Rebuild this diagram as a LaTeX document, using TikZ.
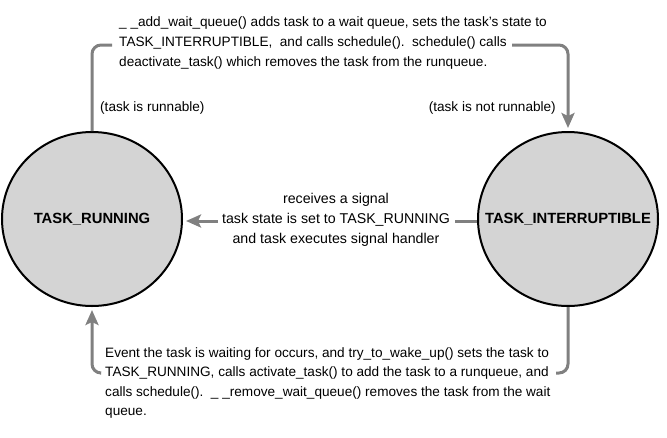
\documentclass[tikz,border=0pt]{standalone}
\usepackage{fontspec}
\setmainfont{Liberation Sans}
\usepackage{tikz}
\usetikzlibrary{shapes.geometric,arrows,arrows.meta}
\definecolor{stategray}{RGB}{212,212,212}
\definecolor{linegray}{RGB}{128,128,128}
\tikzstyle{state}=[ellipse,minimum width=180pt,minimum height=174pt,inner sep=0pt,
draw=black,line width=2pt,fill=stategray]
\tikzstyle{statename}=[inner sep=0pt,font=\fontsize{14.8}{18}\selectfont\bfseries]
\tikzstyle{note}=[align=left,inner sep=0pt,font=\fontsize{13.6}{19.6}\selectfont]
\tikzstyle{line}=[line width=3pt,draw=linegray,rounded corners=9pt]
\tikzstyle{arrow}=[line,-{Stealth[length=15pt,width=13pt,inset=3pt]},shorten >=3pt]

\begin{document}
\begin{tikzpicture}[x=1pt,y=-1pt]
        \useasboundingbox (0,0) rectangle (667,437);
        \node (run) [state,label={[statename]center:TASK\_RUNNING}] at (92,219) {};
        \node (intr) [state,label={[statename]center:TASK\_INTERRUPTIBLE}] at (568,219) {};

        \node (sleep) [note,anchor=west] at (119,43) {\_ \_add\_wait\_queue() adds task to a wait queue, sets the task’s state to\\
        TASK\_INTERRUPTIBLE,\ \ and calls schedule().\ \ schedule() calls\\
        deactivate\_task() which removes the task from the runqueue.};
        \node (wake) [note,anchor=west] at (105,383) {Event the task is waiting for occurs, and try\_to\_wake\_up() sets the task to\\
        TASK\_RUNNING, calls activate\_task() to add the task to a runqueue, and\\
        calls schedule().\ \ \_ \_remove\_wait\_queue() removes the task from the wait\\
        queue.};
        \node (signal) [note,align=center,font=\fontsize{14.2}{20}\selectfont] at (336,220) {receives a signal\\
        task state is set to TASK\_RUNNING\\
        and task executes signal handler};
        \node (yes) [note,anchor=west] at (100,108) {(task is runnable)};
        \node (no) [note,anchor=east] at (556,108) {(task is not runnable)};

        \coordinate (tl) at (112,45);
        \coordinate (tr) at (512,45);
        \coordinate (bl) at (100,373);
        \coordinate (br) at (556,373);
        \coordinate (ml) at (218,221);
        \coordinate (mr) at (455,221);

        \draw [line] (run.north) |- (tl);
        \draw [arrow] (tr) -| (intr.north);
        \draw [line] (intr.south) |- (br);
        \draw [arrow] (bl) -| (run.south);
        \draw [line] (intr.west |- mr) -- (mr);
        \draw [arrow] (ml) -- (run.east |- ml);

    \end{tikzpicture}
\end{document}
